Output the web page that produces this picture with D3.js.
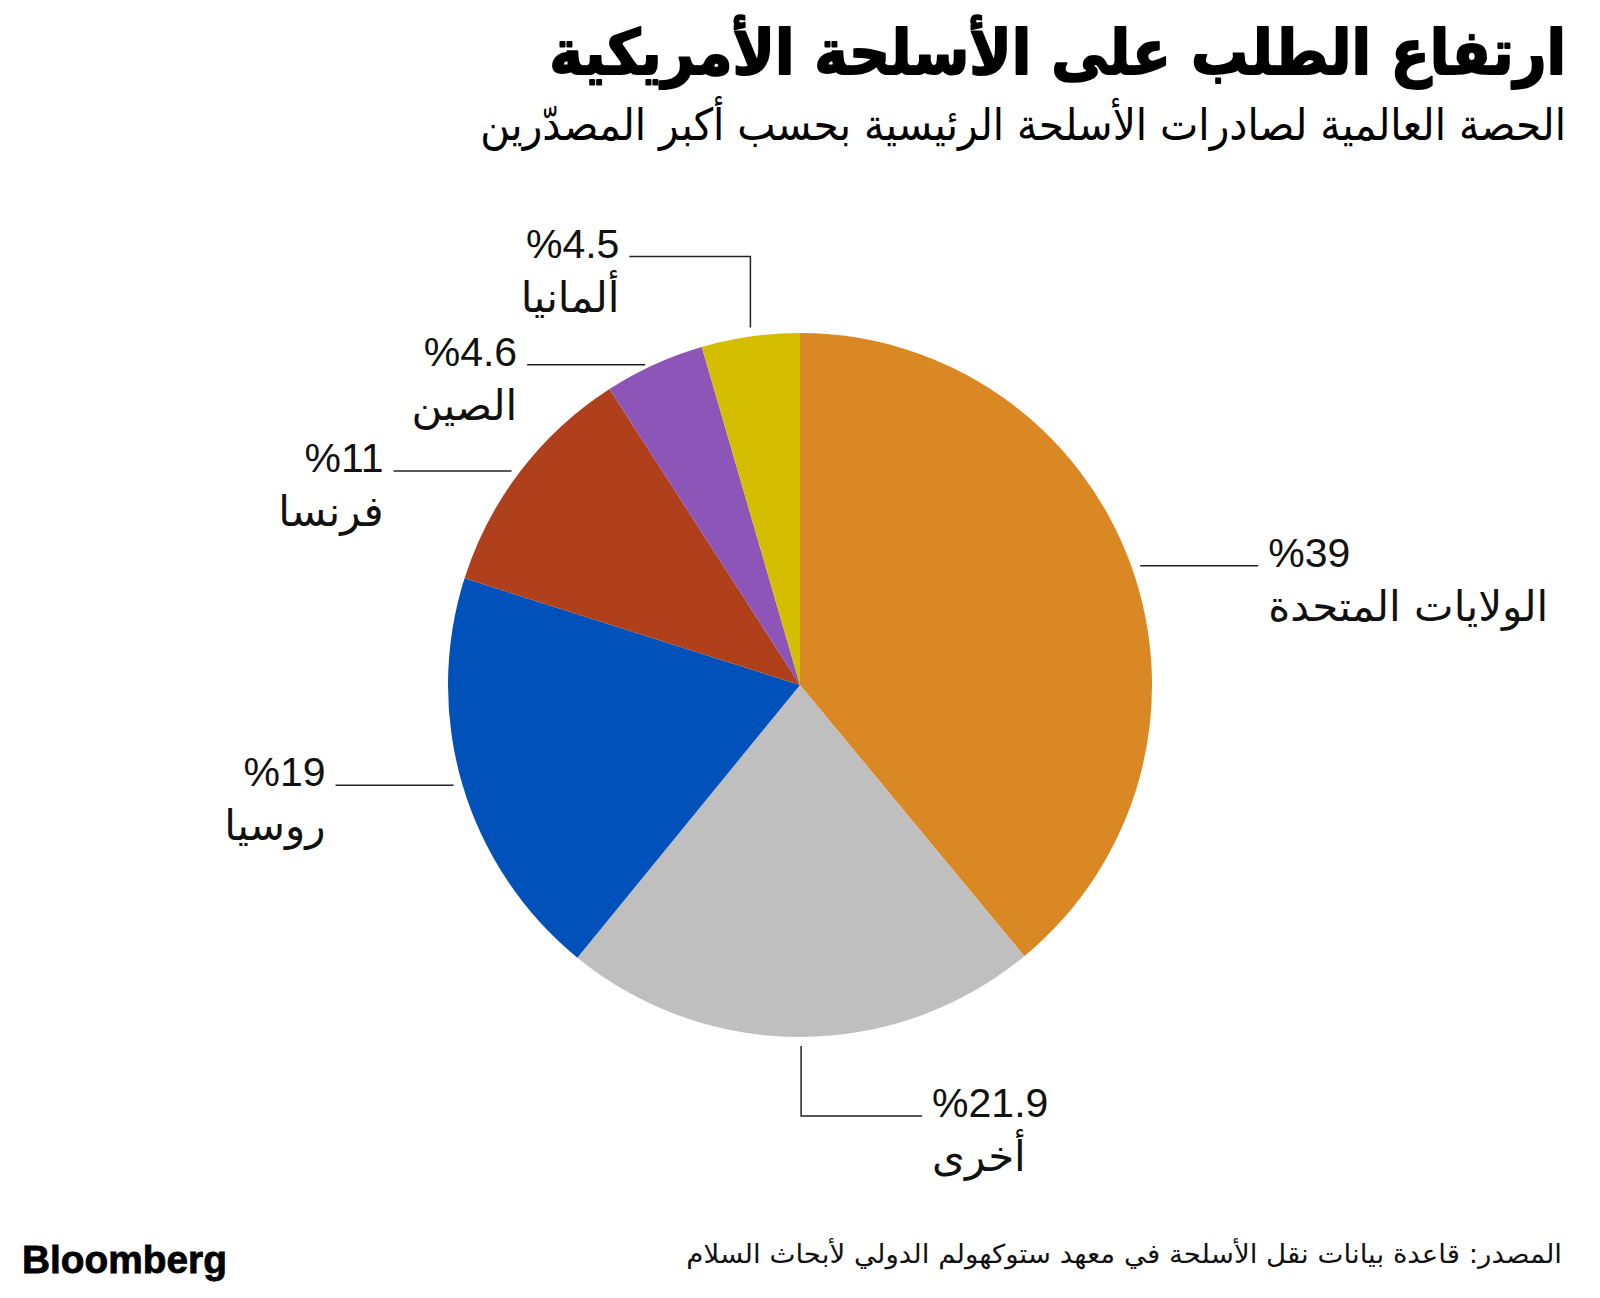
<!DOCTYPE html>
<html><head><meta charset="utf-8">
<script src="https://cdn.jsdelivr.net/npm/d3@7"></script>
<style>html,body{margin:0;padding:0;background:#fff}</style>
</head><body>
<svg id="chart" width="1600" height="1298"></svg>
<script>
// ---- data ----
const categories = ["الولايات المتحدة", "أخرى", "روسيا", "فرنسا", "الصين", "ألمانيا"];
const shares = [39, 21.9, 19, 11, 4.6, 4.5];
const colors = ["#D98823", "#BFBFBF", "#0051B9", "#B0401C", "#8D55B7", "#D5BE00"];
const titleText = "ارتفاع الطلب على الأسلحة الأمريكية";
const subtitleText = "الحصة العالمية لصادرات الأسلحة الرئيسية بحسب أكبر المصدّرين";
const sourceText = "المصدر: قاعدة بيانات نقل الأسلحة في معهد ستوكهولم الدولي لأبحاث السلام";

// ---- layout ----
const cx = 800, cy = 685, R = 352;
const arabicFont = "'DejaVu Sans', sans-serif";
const latinFont = "'Liberation Sans', Arial, sans-serif";
const svg = d3.select("#chart");

function fit(sel, targetW, x, y) {
  const w = sel.node().getComputedTextLength();
  sel.attr("transform", `translate(${x},${y}) scale(${targetW / w},1)`);
}

// title
const t = svg.append("text").text(titleText)
  .attr("font-family", arabicFont).attr("font-weight", "bold")
  .attr("font-size", 62).attr("text-anchor", "end").attr("fill", "#000")
  .attr("stroke", "#000").attr("stroke-width", 2).attr("stroke-linejoin", "round");
fit(t, 1017, 1566, 74);

const st = svg.append("text").text(subtitleText)
  .attr("font-family", arabicFont).attr("font-size", 44)
  .attr("text-anchor", "end").attr("fill", "#000");
fit(st, 1086, 1566, 140);

// pie
const pie = d3.pie().sort(null).value(d => d)(shares);
const arc = d3.arc().innerRadius(0).outerRadius(R);
const g = svg.append("g").attr("transform", `translate(${cx},${cy})`);
g.selectAll("path").data(pie).join("path")
  .attr("d", arc).attr("fill", (d, i) => colors[i]);

// leader lines & labels
const lg = svg.append("g");
pie.forEach((d, i) => {
  const mid = (d.startAngle + d.endAngle) / 2;
  const s = Math.sin(mid), c = Math.cos(mid);
  const elbow = Math.abs(c) > 0.95;
  const side = elbow ? (c < 0 ? 1 : -1) : (s > 0 ? 1 : -1);
  let pts, endX, endY;
  if (elbow) {
    const x0 = cx + R * s;
    const y0 = cy - (R + 9) * c;
    const y1 = y0 + (c < 0 ? 70 : -71);
    endX = x0 + side * 121; endY = y1;
    pts = [[x0, y0], [x0, y1], [endX, y1]];
  } else {
    const x0 = cx + R * s + side * 9;
    const y0 = cy - R * c;
    endX = x0 + side * 118; endY = y0;
    pts = [[x0, y0], [endX, y0]];
  }
  lg.append("path").attr("d", d3.line()(pts))
    .attr("fill", "none").attr("stroke", "#222").attr("stroke-width", 1.5);
  const tx = endX + side * 10;
  const anchor = side > 0 ? "start" : "end";
  lg.append("text").text("%" + shares[i])
    .attr("x", tx).attr("y", endY + 1)
    .attr("font-family", latinFont).attr("font-size", 41)
    .attr("text-anchor", anchor).attr("fill", "#111");
  lg.append("text").text(categories[i])
    .attr("x", tx).attr("y", endY + 55)
    .attr("font-family", arabicFont).attr("font-size", 42)
    .attr("text-anchor", anchor).attr("fill", "#111");
});

// footer
const b = svg.append("text").text("Bloomberg")
  .attr("font-family", latinFont).attr("font-weight", "bold")
  .attr("font-size", 38).attr("fill", "#000")
  .attr("stroke", "#000").attr("stroke-width", 0.8);
fit(b, 205, 22, 1273);

const src = svg.append("text").text(sourceText)
  .attr("font-family", arabicFont).attr("font-size", 26)
  .attr("text-anchor", "end").attr("fill", "#111");
fit(src, 876, 1562, 1263);
</script>
</body></html>
